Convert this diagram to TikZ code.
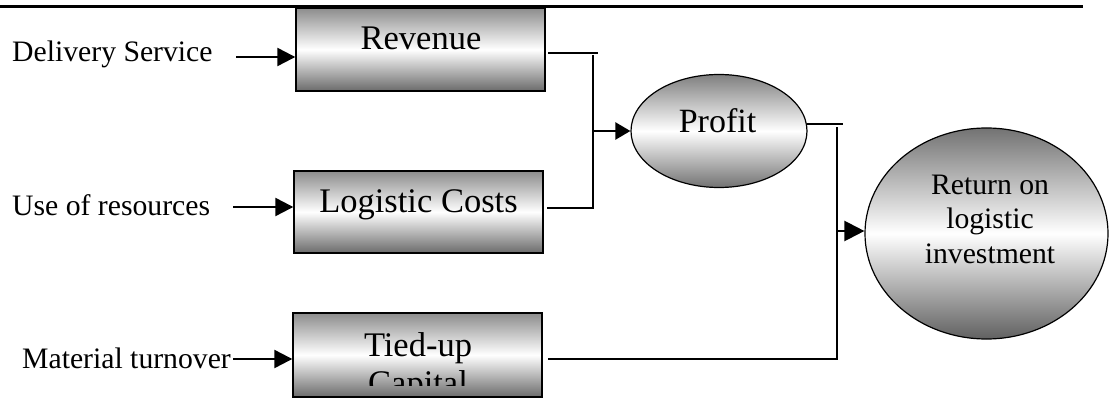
\documentclass[tikz,border=0pt]{standalone}
\usepackage{fontspec}
\setmainfont{Liberation Serif}
\usetikzlibrary{arrows.meta,shapes.geometric,calc}

\begin{document}
\begin{tikzpicture}[x=1pt,y=-1pt,
  label/.style={inner sep=0pt,font=\fontsize{29.7}{34}\selectfont},
  boxtext/.style={inner sep=0pt,font=\fontsize{34.5}{39}\selectfont},
  stagebox/.style={draw=black,line width=1.4pt,rectangle,inner sep=0pt,
    minimum width=249pt,minimum height=83pt,
    top color=black!45,bottom color=black!58,middle color=white},
  oval/.style={draw=black,line width=1.2pt,ellipse,inner sep=0pt,
    top color=black!50,bottom color=black!55,middle color=white},
  bigoval/.style={draw=black,line width=1.2pt,ellipse,inner sep=0pt,
    top color=black!55,bottom color=black!62,middle color=white},
  conn/.style={line width=1.5pt,line cap=rect},
  arr/.style={line width=2.3pt,-{Triangle[length=18pt,width=18pt]}},
]
\useasboundingbox (0,0) rectangle (1109,398);

% header rule
\coordinate (ruleL) at (0,6.5);
\coordinate (ruleR) at (1083,6.5);
\draw[line width=2.2pt] (ruleL) -- (ruleR);

% stage boxes
\node[stagebox] (rev)  at (420.5,49.5) {};
\node[stagebox,minimum height=82pt] (cost) at (418.5,212) {};
\node[stagebox,minimum height=84pt] (tied) at (417.5,355) {};

\node[boxtext,anchor=base] (revT)  at ($(rev.north)+(0.5,42)$) {Revenue};
\node[boxtext,anchor=base] (costT) at ($(cost.north)+(0,42)$) {Logistic Costs};
\begin{scope}
  \clip ($(tied.north west)+(2,2)$) rectangle ($(tied.south east)+(-2,-12)$);
  \node[boxtext,anchor=base] (tiedT1) at ($(tied.north)+(0.5,44)$) {Tied-up};
  \node[boxtext,anchor=base] (tiedT2) at ($(tied.north)+(0.5,82)$) {Capital};
\end{scope}

% ovals
\node[oval,minimum width=176pt,minimum height=113pt] (prof) at (719,131) {};
\node[boxtext,anchor=base,font=\fontsize{34}{39}\selectfont] (profT) at (717.5,133) {Profit};
\node[bigoval,minimum width=243pt,minimum height=211pt] (ret) at (986.5,233.5) {};
\node[label,align=center,font=\fontsize{29.7}{34.5}\selectfont] (retT) at (990,219)
  {Return on\\logistic\\investment};

% driver labels
\node[label,anchor=base west] (lblD) at (12,62)  {Delivery Service};
\node[label,anchor=base west] (lblU) at (12,216) {Use of resources};
\node[label,anchor=base west] (lblM) at (22,368) {Material turnover};

\coordinate (aD) at (236,57);
\coordinate (aU) at (233,207);
\coordinate (aM) at (233,359);
\draw[arr] (aD) -- (aD -| rev.west);
\draw[arr] (aU) -- (aU -| cost.west);
\draw[arr] (aM) -- (aM -| tied.west);

% revenue and costs merge into profit
\coordinate (jRev) at (597,53);
\coordinate (jTop) at (593,56);
\coordinate (jBot) at (593,208);
\coordinate (jProf) at (593,131);
\draw[conn] ($(rev.east)+(3,3.5)$) -- (jRev);
\draw[conn] ($(cost.east)+(4,-4)$) -- (jBot) -- (jTop);
\draw[arr,-{Triangle[length=15pt,width=17pt]}] (jProf) -- (prof.west);

% profit and tied-up capital merge into return on investment
\coordinate (kProf) at (842,124);
\coordinate (kTop) at (837,128);
\coordinate (kBot) at (837,359);
\coordinate (kRet) at (837,231);
\draw[conn] ($(prof.east)+(0,-7)$) -- (kProf);
\draw[conn] ($(tied.east)+(6,4)$) -- (kBot) -- (kTop);
\draw[arr,-{Triangle[length=20pt,width=20pt]}] (kRet) -- (kRet -| ret.west);
\end{tikzpicture}
\end{document}
